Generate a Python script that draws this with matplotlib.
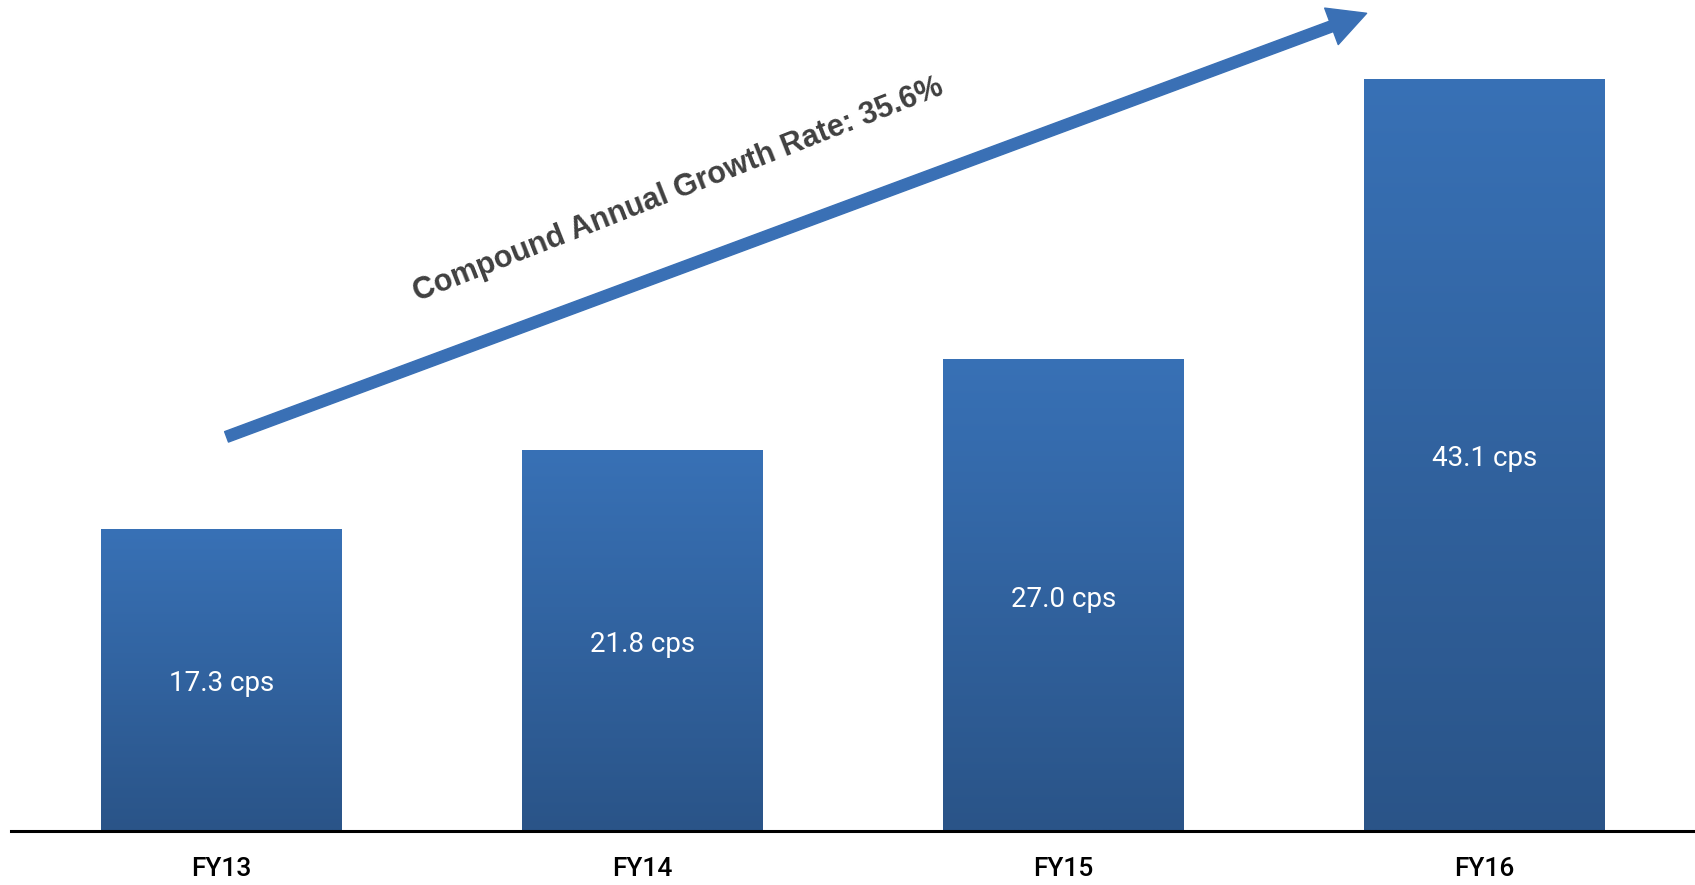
import numpy as np
from matplotlib import pyplot as plt

# data
years = ['FY13', 'FY14', 'FY15', 'FY16']
cps = [17.3, 21.8, 27.0, 43.1]
labels = ['17.3 cps', '21.8 cps', '27.0 cps', '43.1 cps']
cagr_text = 'Compound Annual Growth Rate: 35.6%'

cond = ['Roboto', 'DejaVu Sans']

fig = plt.figure(figsize=(16.95, 8.85), dpi=100)
ax = fig.add_axes([11 / 1695, 54.5 / 885, 1 - 11 / 1695, 830.5 / 885])

x = np.arange(len(years))
bars = ax.bar(x, cps, width=0.572, color='none', edgecolor='none')

# vertical gradient inside every bar
top = np.array([0x38, 0x71, 0xB6]) / 255
bot = np.array([0x2A, 0x54, 0x88]) / 255
t = np.linspace(0, 1, 256)[:, None]
grad = (bot + (top - bot) * t).reshape(256, 1, 3)
for b in bars:
    x0, y0 = b.get_x(), b.get_y()
    im = ax.imshow(grad, extent=(x0, x0 + b.get_width(), y0, y0 + b.get_height()),
                   origin='lower', aspect='auto', zorder=2)
    im.set_clip_path(b)

for xi, v, lab in zip(x, cps, labels):
    ax.annotate(lab, (xi, v / 2), xytext=(0, -3), textcoords='offset points',
                ha='center', va='center', color='white',
                fontsize=20, family=cond, zorder=3)

ax.set_xlim(-0.5, 3.5)
ax.set_ylim(0, 47.6)
ax.set_xticks(x)
ax.set_xticklabels(years, fontsize=19, family=cond, color='black', fontweight='medium')
ax.tick_params(axis='x', length=0, pad=19)
ax.set_yticks([])
for s in ['top', 'right', 'left']:
    ax.spines[s].set_visible(False)
ax.spines['bottom'].set_linewidth(2.2)
ax.spines['bottom'].set_color('black')

# growth arrow and label
ax.annotate('', xy=(0.805, 0.984), xytext=(0.128, 0.474), xycoords='axes fraction',
            arrowprops=dict(arrowstyle='simple,head_length=27,head_width=28,tail_width=8',
                            mutation_scale=1, color='#3A70B5', shrinkA=0, shrinkB=0),
            annotation_clip=False)
ax.text(0.396, 0.771, cagr_text, transform=ax.transAxes, rotation=21.5,
        rotation_mode='anchor', ha='center', va='center', fontsize=22,
        fontweight='bold', family=['Liberation Sans', 'DejaVu Sans'], color='#404040')

fig.savefig('out.png', dpi=100)
